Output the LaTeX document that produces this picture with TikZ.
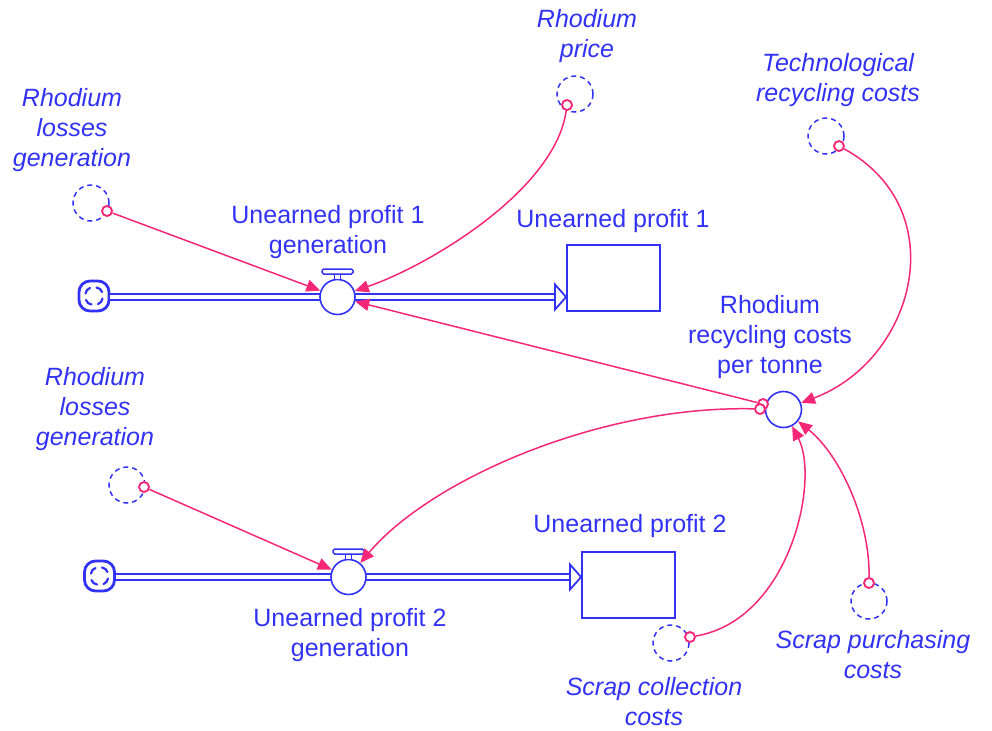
\documentclass[tikz,border=0pt]{standalone}
\usepackage{fontspec}
\setmainfont{Liberation Sans}
\usetikzlibrary{arrows.meta,calc}
\definecolor{ink}{RGB}{50,50,245}
\definecolor{wire}{RGB}{245,40,120}
\begin{document}
\begin{tikzpicture}[x=0.5pt,y=-0.5pt,
  font=\fontsize{12.5}{15}\selectfont,
  lbl/.style={text=ink, align=center, anchor=north, inner sep=0pt},
  ilbl/.style={lbl, font=\fontsize{12.5}{15}\selectfont\itshape},
  stock/.style={draw=ink, line width=0.9pt, fill=white, minimum width=46.5pt, minimum height=33pt, inner sep=0pt},
  valve/.style={circle, draw=ink, line width=0.8pt, fill=white, minimum size=17.5pt, inner sep=0pt},
  aux/.style={circle, draw=ink, line width=0.8pt, fill=white, minimum size=18pt, inner sep=0pt},
  ghost/.style={circle, draw=ink, dash pattern=on 2.5pt off 2pt, line width=0.75pt, minimum size=18pt, inner sep=0pt},
  tail/.style={circle, draw=wire, line width=0.95pt, fill=white, minimum size=5pt, inner sep=0pt},
  link/.style={draw=wire, line width=0.75pt, -{Triangle[length=7pt,width=6pt]}},
  pipe/.style={draw=ink, double=white, double distance=1.7pt, line width=0.95pt},
  inflow/.style={draw=ink, fill=white, line width=0.9pt, line join=miter},
  cloud/.style={draw=ink, line width=1.4pt, rounded corners=5.5pt, fill=white, minimum size=15pt, inner sep=0pt},
  handle/.style={draw=ink, fill=white, line width=0.75pt}]
\useasboundingbox (0,0) rectangle (992,730);

% ---- stocks, flows and sources ----
\node[cloud] (c1) at (94,296) {};
\node[cloud] (c2) at (99.5,576) {};
\node[stock] (s1) at (613.5,278) {};
\node[stock] (s2) at (628.5,585) {};
\coordinate (e1) at (555,297);
\coordinate (e2) at (570,577);

\draw[pipe] (c1.east |- e1) -- (e1);
\draw[pipe] (c2.east |- e2) -- (e2);
\draw[inflow] (555,284.5) -- (s1.west |- e1) -- (555,309.5) -- cycle;
\draw[inflow] (570,564.5) -- (s2.west |- e2) -- (570,589.5) -- cycle;

% pinwheel marks inside the source clouds
\foreach \c in {c1,c2}
  \foreach \a in {0,90,180,270}
    \draw[ink, line width=1.1pt, line cap=round, rotate around={\a:(\c)}]
      ($(\c)+(-8.5,-2.5)$) to[bend left=30] ($(\c)+(-4,-8)$);

% valves
\node[valve] (v1) at (337.5,297) {};
\node[valve] (v2) at (348.5,577) {};
\foreach \v in {v1,v2} {
  \draw[handle] ($(\v)+(-3,-23)$) rectangle ($(\v)+(3,-17.5)$);
  \draw[handle, rounded corners=0.8pt] ($(\v)+(-15.5,-28)$) rectangle ($(\v)+(15.5,-23)$);
}

% auxiliary variable
\node[aux] (rrc) at (783.5,409.5) {};

% ---- shadow variables ----
\node[ghost] (gprice) at (575,94) {};
\node[ghost] (gloss1) at (91,203) {};
\node[ghost] (gtech) at (826,136) {};
\node[ghost] (gloss2) at (127,485) {};
\node[ghost] (gcoll) at (671,643) {};
\node[ghost] (gpurch) at (869,601) {};

% ---- labels ----
\node[ilbl] at (587,9) {Rhodium\\price};
\node[ilbl] at (72,88) {Rhodium\\losses\\generation};
\node[ilbl] at (838,53) {Technological\\recycling costs};
\node[lbl] at (328,205) {Unearned profit 1\\generation};
\node[lbl] at (613,209) {Unearned profit 1};
\node[lbl] at (770,295) {Rhodium\\recycling costs\\per tonne};
\node[ilbl] at (95,367) {Rhodium\\losses\\generation};
\node[lbl] at (630,514) {Unearned profit 2};
\node[lbl] at (350,608) {Unearned profit 2\\generation};
\node[ilbl] at (654,677) {Scrap collection\\costs};
\node[ilbl] at (873,630) {Scrap purchasing\\costs};

% ---- link tails ----
\node[tail] (t1) at (107,211) {};
\node[tail] (t2) at (567,105) {};
\node[tail] (t3) at (839,146) {};
\node[tail] (t4) at (763,404) {};
\node[tail] (t5) at (760,409) {};
\node[tail] (t6) at (144,487) {};
\node[tail] (t7) at (690,637) {};
\node[tail] (t8) at (869,583) {};

% ---- information links ----
\draw[link] (t1) -- (v1);
\draw[link] (t2) .. controls (555,190) and (430,265) .. (v1);
\draw[link] (t3) .. controls (955,210) and (915,360) .. (rrc);
\draw[link] (t4) -- (v1);
\draw[link] (t5) .. controls (600,405) and (430,480) .. (v2);
\draw[link] (t6) -- (v2);
\draw[link] (t7) .. controls (790,620) and (820,480) .. (rrc);
\draw[link] (t8) .. controls (870,520) and (840,455) .. (rrc);
\end{tikzpicture}
\end{document}
